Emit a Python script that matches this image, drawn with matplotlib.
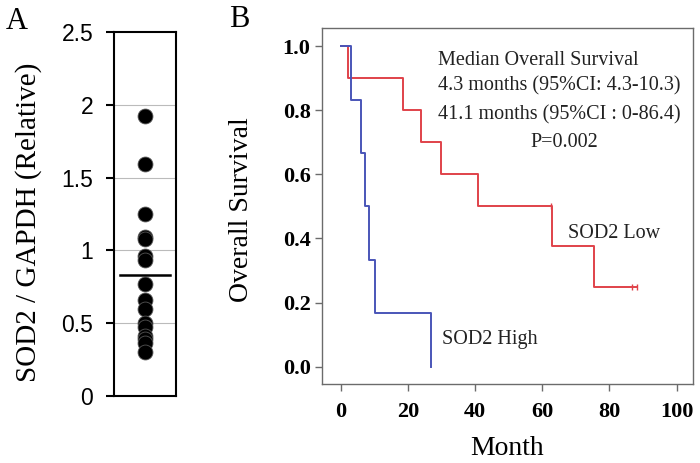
import matplotlib
matplotlib.use("Agg")
import matplotlib.pyplot as plt
import numpy as np

# panel A: SOD2 / GAPDH expression, one dot per sample
sod2_rel = [1.92, 1.59, 1.25, 1.09, 1.08, 0.96, 0.93, 0.77, 0.66, 0.60,
            0.50, 0.47, 0.41, 0.39, 0.36, 0.30]

# panel B: Kaplan-Meier steps
low_t = [0, 2.1, 18.6, 24.0, 29.9, 41.0, 63.0, 75.3, 88.2]
low_s = [1.0, 0.9, 0.8, 0.7, 0.6, 0.5, 0.375, 0.25, 0.25]
low_cens_t = [62.5, 86.6, 88.2]
low_cens_s = [0.5, 0.25, 0.25]

high_t = [0, 3.1, 6.0, 7.2, 8.5, 10.2, 26.8]
high_s = [1.0, 0.833, 0.667, 0.5, 0.333, 0.167, 0.0]

SERIF = "Liberation Serif"
SANS = "Liberation Sans"
RED = "#e0424a"
BLUE = "#4a55b8"
FRAME = "#6b6b6b"

fig = plt.figure(figsize=(7, 4.63), dpi=100)

# ---------------- panel A ----------------
axA = fig.add_axes([0.163, 0.145, 0.088, 0.786])
axA.set_xlim(-1, 1)
axA.set_ylim(0, 2.5)
for g in [0.5, 1.0, 1.5, 2.0]:
    axA.axhline(g, color="#bbbbbb", lw=0.8, zorder=0)
axA.scatter(np.zeros(len(sod2_rel)), sod2_rel, s=115, color="black",
            edgecolors="#555555", linewidths=0.6, zorder=3)
m = np.mean(sod2_rel)
axA.plot([-0.82, 0.81], [m, m], color="black", lw=1.8, zorder=4)
axA.set_xticks([])
axA.set_yticks([0, 0.5, 1, 1.5, 2, 2.5])
axA.set_yticklabels(["0", "0.5", "1", "1.5", "2", "2.5"])
axA.tick_params(axis="y", length=6, width=1.5, pad=9, labelsize=16.5)
for lab in axA.get_yticklabels():
    lab.set_fontfamily(SANS)
for sp in axA.spines.values():
    sp.set_linewidth(1.5)
axA.set_ylabel("SOD2 / GAPDH (Relative)", fontfamily=SERIF, fontsize=21)
axA.yaxis.set_label_coords(-1.17, 0.478)
fig.text(0.008, 0.985, "A", fontfamily=SERIF, fontsize=22, va="top", ha="left")

# ---------------- panel B ----------------
axB = fig.add_axes([0.4596, 0.170, 0.5304, 0.770])
axB.step(low_t, low_s, where="post", color=RED, lw=1.4)
axB.step(high_t, high_s, where="post", color=BLUE, lw=1.4)
axB.plot(low_cens_t, low_cens_s, ls="none", marker="|", ms=5,
         mew=1.0, color=RED)
axB.set_xlim(-5.65, 104.9)
axB.set_ylim(-0.055, 1.057)
axB.set_xticks([0, 20, 40, 60, 80, 100])
axB.set_yticks([0.0, 0.2, 0.4, 0.6, 0.8, 1.0])
axB.set_yticklabels(["0.0", "0.2", "0.4", "0.6", "0.8", "1.0"])
axB.tick_params(length=5, width=1.0, color=FRAME, labelsize=16, pad=3)
axB.tick_params(axis="x", pad=8)
for lab in axB.get_xticklabels() + axB.get_yticklabels():
    lab.set_fontfamily(SERIF)
    lab.set_fontweight("bold")
for sp in axB.spines.values():
    sp.set_color(FRAME)
    sp.set_linewidth(1.0)
axB.set_xlabel("Month", fontfamily=SERIF, fontsize=20)
axB.xaxis.set_label_coords(0.5, -0.145)
axB.set_ylabel("Overall Survival", fontfamily=SERIF, fontsize=20)
axB.yaxis.set_label_coords(-0.182, 0.49)

txt = dict(fontfamily=SERIF, fontsize=14.5, color="#222222")
axB.text(29.0, 0.955, "Median Overall Survival", va="center", **txt)
axB.text(29.0, 0.875, "4.3 months (95%CI: 4.3-10.3)", va="center", **txt)
axB.text(29.0, 0.785, "41.1 months (95%CI : 0-86.4)", va="center", **txt)
axB.text(66.5, 0.70, "P=0.002", va="center", ha="center", **txt)
axB.text(67.8, 0.415, "SOD2 Low", va="center", **txt)
axB.text(30.3, 0.085, "SOD2 High", va="center", **txt)

fig.text(0.327, 0.99, "B", fontfamily=SERIF, fontsize=22, va="top", ha="left")

fig.savefig("out.png", dpi=100)
